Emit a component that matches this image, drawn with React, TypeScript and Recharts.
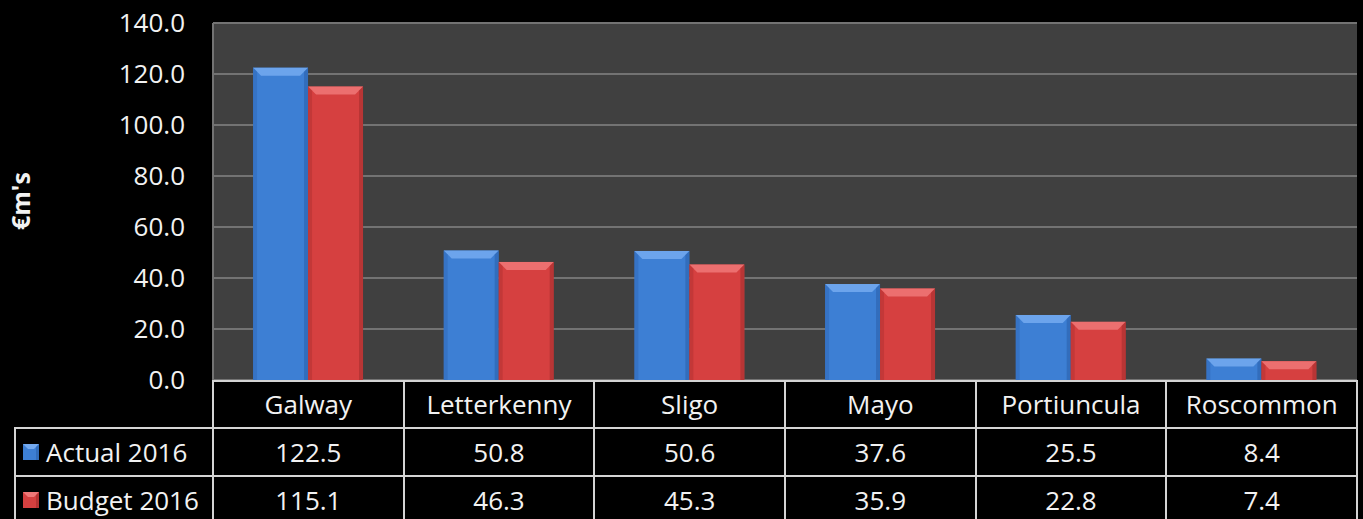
import React from 'react';
import { BarChart, Bar, XAxis, YAxis, CartesianGrid } from 'recharts';

const sites = ['Galway', 'Letterkenny', 'Sligo', 'Mayo', 'Portiuncula', 'Roscommon'];
const actual2016 = [122.5, 50.8, 50.6, 37.6, 25.5, 8.4];
const budget2016 = [115.1, 46.3, 45.3, 35.9, 22.8, 7.4];
const yTicks = [0, 20, 40, 60, 80, 100, 120, 140];

const seriesInfo = [
  { key: 'actual', name: 'Actual 2016', values: actual2016, color: '#3d7fd4', light: '#74aaf0', dark: '#2a5fa8' },
  { key: 'budget', name: 'Budget 2016', values: budget2016, color: '#d64040', light: '#f07878', dark: '#a02c2c' },
];

const data = sites.map((site, i) => ({
  site,
  actual: actual2016[i],
  budget: budget2016[i],
}));

const W = 1363;
const H = 519;
const PLOT_LEFT = 213;
const PLOT_RIGHT = 1357;
const PLOT_TOP = 23;
const PLOT_BOTTOM = 380;
const ROW_H = 48;
const FONT = '"Open Sans", Lato, sans-serif';
const BORDER = '#d4d4d4';

// bevelled bar like the Excel 3D-ish style
const BevelBar = (color: string, light: string, dark: string) => (props: any) => {
  const { x, y, width, height } = props;
  if (!height || height <= 0) return null;
  const b = Math.min(8, height / 2, width / 4);
  return (
    <g>
      <rect x={x} y={y} width={width} height={height} fill={color} />
      <polygon
        points={`${x},${y} ${x + width},${y} ${x + width - b},${y + b} ${x + b},${y + b}`}
        fill={light}
        opacity={0.85}
      />
      <polygon points={`${x},${y} ${x + 4},${y + 4} ${x + 4},${y + height} ${x},${y + height}`} fill={dark} opacity={0.35} />
      <polygon
        points={`${x + width},${y} ${x + width - 4},${y + 4} ${x + width - 4},${y + height} ${x + width},${y + height}`}
        fill={dark}
        opacity={0.55}
      />
    </g>
  );
};

const LegendKey = ({ color, light, dark }: any) => (
  <svg width={16} height={16} style={{ marginRight: 7, flex: 'none' }}>
    <rect x={0} y={0} width={16} height={16} fill={color} />
    <polygon points="0,0 16,0 11,5 5,5" fill={light} />
    <polygon points="16,0 13,3 13,16 16,16" fill={dark} opacity={0.6} />
  </svg>
);

const App = () => {
  const colW = (PLOT_RIGHT - PLOT_LEFT) / sites.length;
  const cellText: React.CSSProperties = {
    position: 'absolute',
    display: 'flex',
    alignItems: 'center',
    justifyContent: 'center',
    color: '#f2f2f2',
    fontFamily: FONT,
    fontSize: 26,
    boxSizing: 'border-box',
  };

  return (
    <div
      style={{
        position: 'absolute',
        top: 0,
        left: 0,
        width: W,
        height: H,
        background: '#000',
        overflow: 'hidden',
      }}
    >
      <BarChart
        width={W}
        height={H}
        data={data}
        margin={{ top: PLOT_TOP, right: W - PLOT_RIGHT, left: 13, bottom: H - PLOT_BOTTOM }}
        barCategoryGap="21%"
        barGap={0}
      >
        <CartesianGrid vertical={false} stroke="#737373" strokeWidth={2} fill="#404040" />
        <XAxis dataKey="site" hide />
        <YAxis
          width={PLOT_LEFT - 13}
          domain={[0, 140]}
          ticks={yTicks}
          tickFormatter={(v: number) => v.toFixed(1)}
          tick={{ fill: '#f2f2f2', fontSize: 26, fontFamily: FONT }}
          tickLine={false}
          tickSize={0}
          tickMargin={28}
          axisLine={{ stroke: '#737373', strokeWidth: 2 }}
          label={{
            content: () => (
              <text
                x={20}
                y={201}
                transform="rotate(-90 20 201)"
                textAnchor="middle"
                dominantBaseline="central"
                fill="#f2f2f2"
                fontSize={25}
                fontWeight="bold"
                fontFamily={FONT}
              >
                €m's
              </text>
            ),
          }}
        />
        {seriesInfo.map((s) => (
          <Bar
            key={s.key}
            dataKey={s.key}
            name={s.name}
            fill={s.color}
            isAnimationActive={false}
            shape={BevelBar(s.color, s.light, s.dark)}
          />
        ))}
      </BarChart>

      {/* data table under the plot */}
      <div
        style={{
          position: 'absolute',
          left: PLOT_LEFT,
          top: PLOT_BOTTOM,
          width: PLOT_RIGHT - PLOT_LEFT,
          height: 2,
          background: BORDER,
        }}
      />
      <div
        style={{
          position: 'absolute',
          left: 14,
          top: PLOT_BOTTOM + ROW_H - 1,
          width: PLOT_RIGHT - 14,
          height: 2,
          background: BORDER,
        }}
      />
      <div
        style={{
          position: 'absolute',
          left: 14,
          top: PLOT_BOTTOM + ROW_H * 2 - 1,
          width: PLOT_RIGHT - 14,
          height: 2,
          background: BORDER,
        }}
      />
      <div
        style={{
          position: 'absolute',
          left: 14,
          top: PLOT_BOTTOM + ROW_H - 1,
          width: 2,
          height: H,
          background: BORDER,
        }}
      />
      {sites.map((_, i) => (
        <div
          key={'v' + i}
          style={{
            position: 'absolute',
            left: PLOT_LEFT + colW * i - 1,
            top: PLOT_BOTTOM,
            width: 2,
            height: H,
            background: BORDER,
          }}
        />
      ))}
      <div
        style={{
          position: 'absolute',
          left: PLOT_RIGHT - 1,
          top: PLOT_BOTTOM,
          width: 2,
          height: H,
          background: BORDER,
        }}
      />
      {sites.map((site, i) => (
        <div
          key={'h' + site}
          style={{ ...cellText, left: PLOT_LEFT + colW * i, top: PLOT_BOTTOM, width: colW, height: ROW_H }}
        >
          {site}
        </div>
      ))}
      {seriesInfo.map((s, r) => (
        <React.Fragment key={s.key}>
          <div
            style={{
              ...cellText,
              justifyContent: 'flex-start',
              left: 23,
              top: PLOT_BOTTOM + ROW_H * (r + 1),
              width: PLOT_LEFT - 23,
              height: ROW_H,
            }}
          >
            <LegendKey color={s.color} light={s.light} dark={s.dark} />
            {s.name}
          </div>
          {s.values.map((v, i) => (
            <div
              key={s.key + i}
              style={{
                ...cellText,
                left: PLOT_LEFT + colW * i,
                top: PLOT_BOTTOM + ROW_H * (r + 1),
                width: colW,
                height: ROW_H,
              }}
            >
              {v.toFixed(1)}
            </div>
          ))}
        </React.Fragment>
      ))}
    </div>
  );
};

export default App;
